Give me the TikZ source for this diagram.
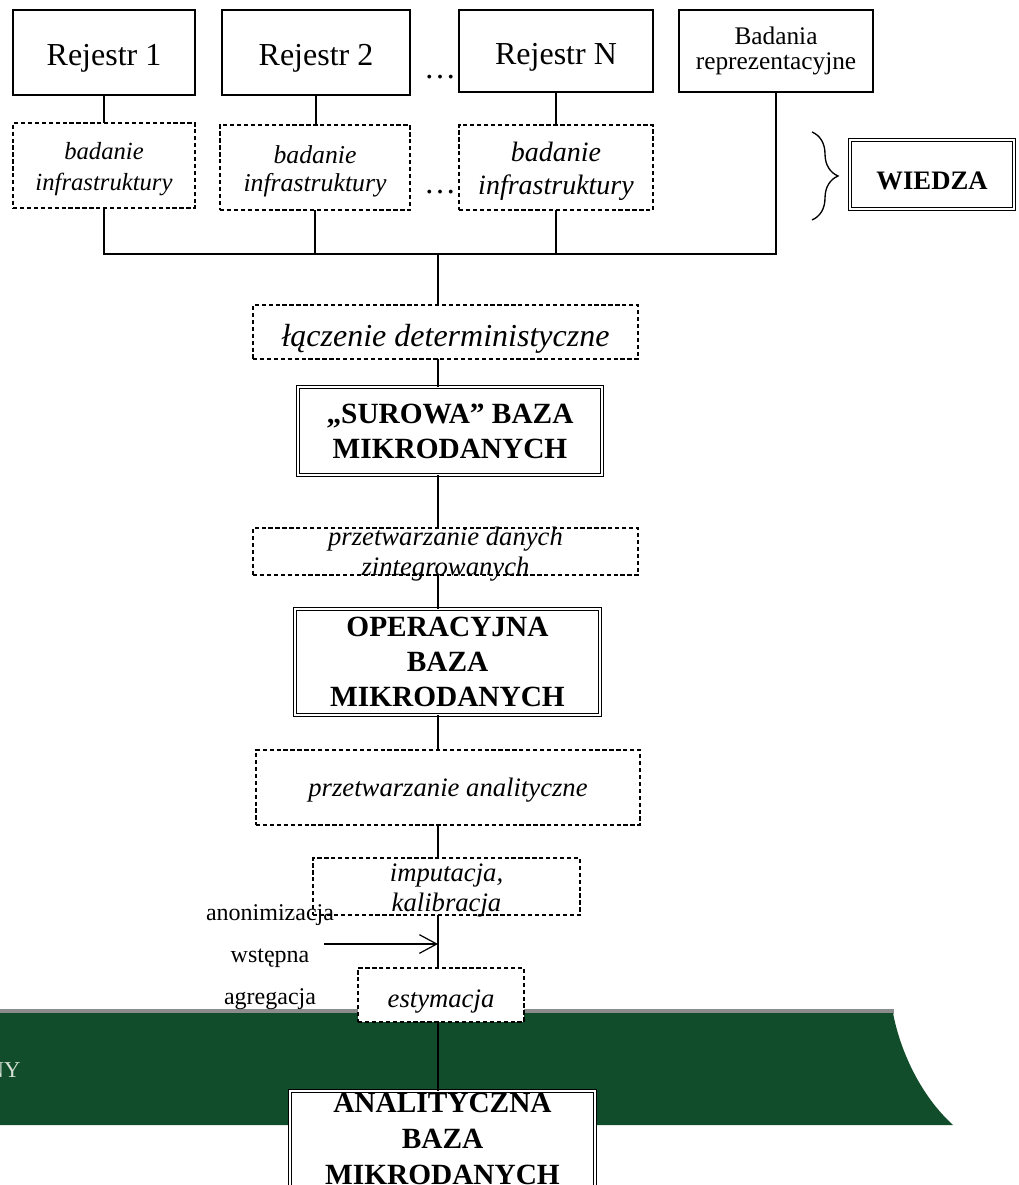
\documentclass[tikz,border=0pt]{standalone}
\usepackage{fontspec}
\setmainfont{Liberation Serif}
\usetikzlibrary{arrows.meta,decorations.pathreplacing}

\definecolor{bandgreen}{RGB}{17,77,43}
\definecolor{bandgray}{RGB}{140,140,140}
\definecolor{bandtext}{RGB}{215,225,215}
\newcommand{\setfs}[2]{\fontsize{#1}{#2}\selectfont}

\begin{document}
\begin{tikzpicture}[x=0.375pt, y=-0.375pt,
        regbox/.style={draw, line width=0.5pt, fill=white, inner sep=0pt, outer sep=0pt, align=center},
        dashbox/.style={draw, line width=0.5pt, dash pattern=on 1.6pt off 1pt, fill=white, inner sep=0pt, outer sep=0pt, align=center},
        basebox/.style={draw, double, double distance=0.8pt, line width=0.45pt, fill=white, inner sep=0pt, outer sep=0pt, align=center, font=\setfs{11}{13.2}\bfseries},
        txt/.style={inner sep=0pt, align=center}]
        \useasboundingbox (0,0) rectangle (1018,1185);

        % Green band of the slide behind
        \fill[bandgray] (-2,1009) rectangle (894,1014);
        \fill[bandgreen] (-2,1013) -- (893,1013) .. controls (900,1050) and (920,1095) .. (953,1125) -- (-2,1125) -- cycle;
        \node[txt, anchor=base east, font=\setfs{8.5}{10}, text=bandtext] (ny) at (21,1077) {NY};

        % Registers
        \node[regbox, minimum width=68.25pt, minimum height=31.875pt, font=\setfs{12}{14}, text height=9.4pt, text depth=0pt] (rej1) at (104,52.5) {Rejestr 1};
        \node[regbox, minimum width=70.5pt, minimum height=31.875pt, font=\setfs{12}{14}, text height=9.4pt, text depth=0pt] (rej2) at (316,52.5) {Rejestr 2};
        \node[regbox, minimum width=72.75pt, minimum height=30.75pt, font=\setfs{12}{14}, text height=10.5pt, text depth=0pt] (rejN) at (556,51) {Rejestr N};
        \node[regbox, minimum width=72.75pt, minimum height=30.75pt, font=\setfs{9.5}{9.5}] (badania) at (776,51) {Badania\\reprezentacyjne};
        \node[txt, anchor=base, font=\setfs{12}{14}] (dots1) at (440,79) {…};

        % Infrastructure surveys
        \node[dashbox, minimum width=68.25pt, minimum height=31.875pt, font=\setfs{9.25}{11.6}\itshape] (inf1) at (104,165.5) {};
        \node[txt, font=\setfs{9.25}{11.6}\itshape] (inf1txt) at (104,169) {badanie\\infrastruktury};
        \node[dashbox, minimum width=71.25pt, minimum height=31.875pt, font=\setfs{9.65}{10.3}\itshape] (inf2) at (315,167.5) {};
        \node[txt, font=\setfs{9.65}{10.3}\itshape] (inf2txt) at (315,171.5) {badanie\\infrastruktury};
        \node[dashbox, minimum width=72.75pt, minimum height=31.875pt, font=\setfs{10.5}{12.4}\itshape] (inf3) at (556,167.5) {};
        \node[txt, font=\setfs{10.5}{12.4}\itshape] (inf3txt) at (556,171) {badanie\\infrastruktury};
        \node[txt, anchor=base, font=\setfs{12}{14}] (dots2) at (440,194) {…};

        % Knowledge
        \node[basebox, minimum width=61.5pt, minimum height=25.875pt, font=\setfs{10}{12}\bfseries, text height=11.6pt, text depth=0pt] (wiedza) at (932,174.5) {WIEDZA};
        \coordinate (brtop) at (812,132);
        \coordinate (brbot) at (812,220);
        \draw[decorate, decoration={brace, amplitude=9.75pt}, line width=0.5pt] (brtop) -- (brbot);

        % Main column
        \node[dashbox, minimum width=144.4pt, minimum height=20.25pt, font=\setfs{12}{14}\itshape, text height=11.25pt, text depth=0pt] (lacz) at (445.5,332) {łączenie deterministyczne};
        \node[basebox, minimum width=114pt, minimum height=33pt] (surowa) at (450,431) {„SUROWA” BAZA\\MIKRODANYCH};
        \node[dashbox, minimum width=144.4pt, minimum height=17.6pt] (prz1) at (445.5,551.5) {};
        \node[txt, font=\setfs{10}{11.25}\itshape] (prz1txt) at (445.5,554) {przetwarzanie danych\\zintegrowanych};
        \node[basebox, minimum width=114.4pt, minimum height=39.75pt] (oper) at (447.5,662) {OPERACYJNA\\BAZA\\MIKRODANYCH};
        \node[dashbox, minimum width=144pt, minimum height=28.1pt, font=\setfs{10}{12}\itshape, text height=7.1pt, text depth=0pt] (analyt) at (448,787.5) {przetwarzanie analityczne};
        \node[dashbox, minimum width=100.1pt, minimum height=21.4pt] (imp) at (446.5,886.5) {};
        \node[txt, font=\setfs{10}{11.25}\itshape] (imptxt) at (446.5,890.5) {imputacja,\\kalibracja};
        \node[dashbox, minimum width=62.25pt, minimum height=20.25pt, font=\setfs{10}{12}\itshape, text height=9pt, text depth=0pt] (est) at (441,995) {estymacja};
        \node[basebox, minimum width=114.4pt, minimum height=45pt] (analit) at (442.5,1151) {};
        \node[txt, font=\setfs{11}{13.5}\bfseries] (analittxt) at (442.5,1139) {ANALITYCZNA\\BAZA\\MIKRODANYCH};

        % Side note
        \node[txt, font=\setfs{9}{15.75}] (anon) at (270,957) {anonimizacja\\wstępna\\agregacja};

        % Connectors
        \coordinate (bus) at (438,254);
        \draw[line width=0.45pt] (rej1.south) -- (inf1.north);
        \draw[line width=0.45pt] (rej2.south) -- (rej2.south |- inf2.north);
        \draw[line width=0.45pt] (rejN.south) -- (rejN.south |- inf3.north);
        \draw[line width=0.45pt] (inf1.south) |- (badania.south |- bus) -- (badania.south);
        \draw[line width=0.45pt] (inf2.south) -- (inf2.south |- bus);
        \draw[line width=0.45pt] (inf3.south) -- (inf3.south |- bus);
        \draw[line width=0.45pt] (bus) -- (bus |- lacz.north);
        \draw[line width=0.45pt] (bus |- lacz.south) -- (bus |- surowa.north);
        \draw[line width=0.45pt] (bus |- surowa.south) -- (bus |- prz1.north);
        \draw[line width=0.45pt] (bus |- prz1.south) -- (bus |- oper.north);
        \draw[line width=0.45pt] (bus |- oper.south) -- (bus |- analyt.north);
        \draw[line width=0.45pt] (bus |- analyt.south) -- (bus |- imp.north);
        \draw[line width=0.45pt] (bus |- imp.south) -- (bus |- est.north);
        \draw[line width=0.45pt] (bus |- est.south) -- (bus |- analit.north);

        \coordinate (arrstart) at (324,944);
        \draw[line width=0.45pt, -{Straight Barb[length=6.5pt, width=7pt]}] (arrstart) -- (arrstart -| bus);
\end{tikzpicture}
\end{document}
